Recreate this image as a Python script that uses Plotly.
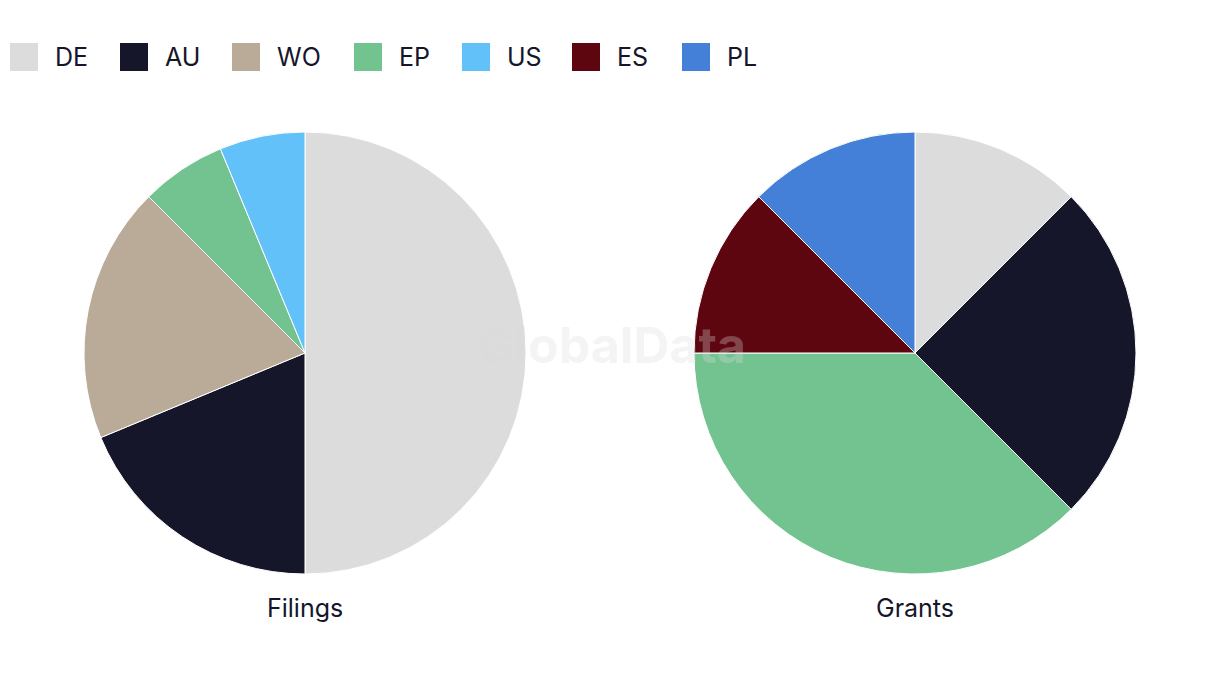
import plotly.graph_objects as go

# ---- data ----
categories = ["DE", "AU", "WO", "EP", "US", "ES", "PL"]
colors = ["#dcdcdc", "#15162a", "#b9ab98", "#73c391", "#63c1fa", "#5e0610", "#4480d7"]

filings_labels = ["DE", "AU", "WO", "EP", "US"]
filings_values = [8, 3, 3, 1, 1]

grants_labels = ["DE", "AU", "EP", "ES", "PL"]
grants_values = [1, 2, 3, 1, 1]

chart_titles = ["Filings", "Grants"]

# ---- layout helpers ----
W, H = 1220, 686
color_map = dict(zip(categories, colors))
TEXT = "#15162a"
FONT = "Inter, Roboto, sans-serif"

def px_x(x):
    return x / W

def px_y(y):
    return 1 - y / H

fig = go.Figure()

pie_common = dict(
    sort=False,
    direction="clockwise",
    rotation=0,
    textinfo="none",
    hoverinfo="label+value+percent",
    showlegend=False,
    marker_line=dict(color="#ffffff", width=1),
)

fig.add_trace(go.Pie(
    labels=filings_labels, values=filings_values,
    marker_colors=[color_map[c] for c in filings_labels],
    domain=dict(x=[px_x(84), px_x(526)], y=[px_y(574), px_y(132)]),
    name=chart_titles[0], **pie_common))

fig.add_trace(go.Pie(
    labels=grants_labels, values=grants_values,
    marker_colors=[color_map[c] for c in grants_labels],
    domain=dict(x=[px_x(694), px_x(1136)], y=[px_y(574), px_y(132)]),
    name=chart_titles[1], **pie_common))

# titles under pies
for title, cx in zip(chart_titles, [305, 915]):
    fig.add_annotation(text=title, x=px_x(cx), y=px_y(608), xref="paper", yref="paper",
                       showarrow=False, xanchor="center", yanchor="middle",
                       font=dict(family=FONT, size=25, color=TEXT))

# custom legend (large square swatches)
legend_x = [10, 120, 232, 354, 462, 572, 682]
sq = 28
ly_top, ly_bot = 43, 71
shapes = []
for cat, col, x0 in zip(categories, colors, legend_x):
    shapes.append(dict(type="rect", xref="paper", yref="paper",
                       x0=px_x(x0), x1=px_x(x0 + sq), y0=px_y(ly_bot), y1=px_y(ly_top),
                       fillcolor=col, line=dict(width=0)))
    fig.add_annotation(text=cat, x=px_x(x0 + sq + 15), y=px_y(57), xref="paper", yref="paper",
                       showarrow=False, xanchor="left", yanchor="middle",
                       font=dict(family=FONT, size=25, color=TEXT))

# faint watermark
fig.add_annotation(text="<b>GlobalData</b>", x=px_x(611), y=px_y(345), xref="paper", yref="paper",
                   showarrow=False, xanchor="center", yanchor="middle",
                   font=dict(family=FONT, size=50, color="rgba(220,220,220,0.3)"))

fig.update_layout(
    width=W, height=H,
    margin=dict(l=0, r=0, t=0, b=0),
    paper_bgcolor="#ffffff",
    plot_bgcolor="#ffffff",
    shapes=shapes,
    showlegend=False,
)

fig.write_html("out.html")
